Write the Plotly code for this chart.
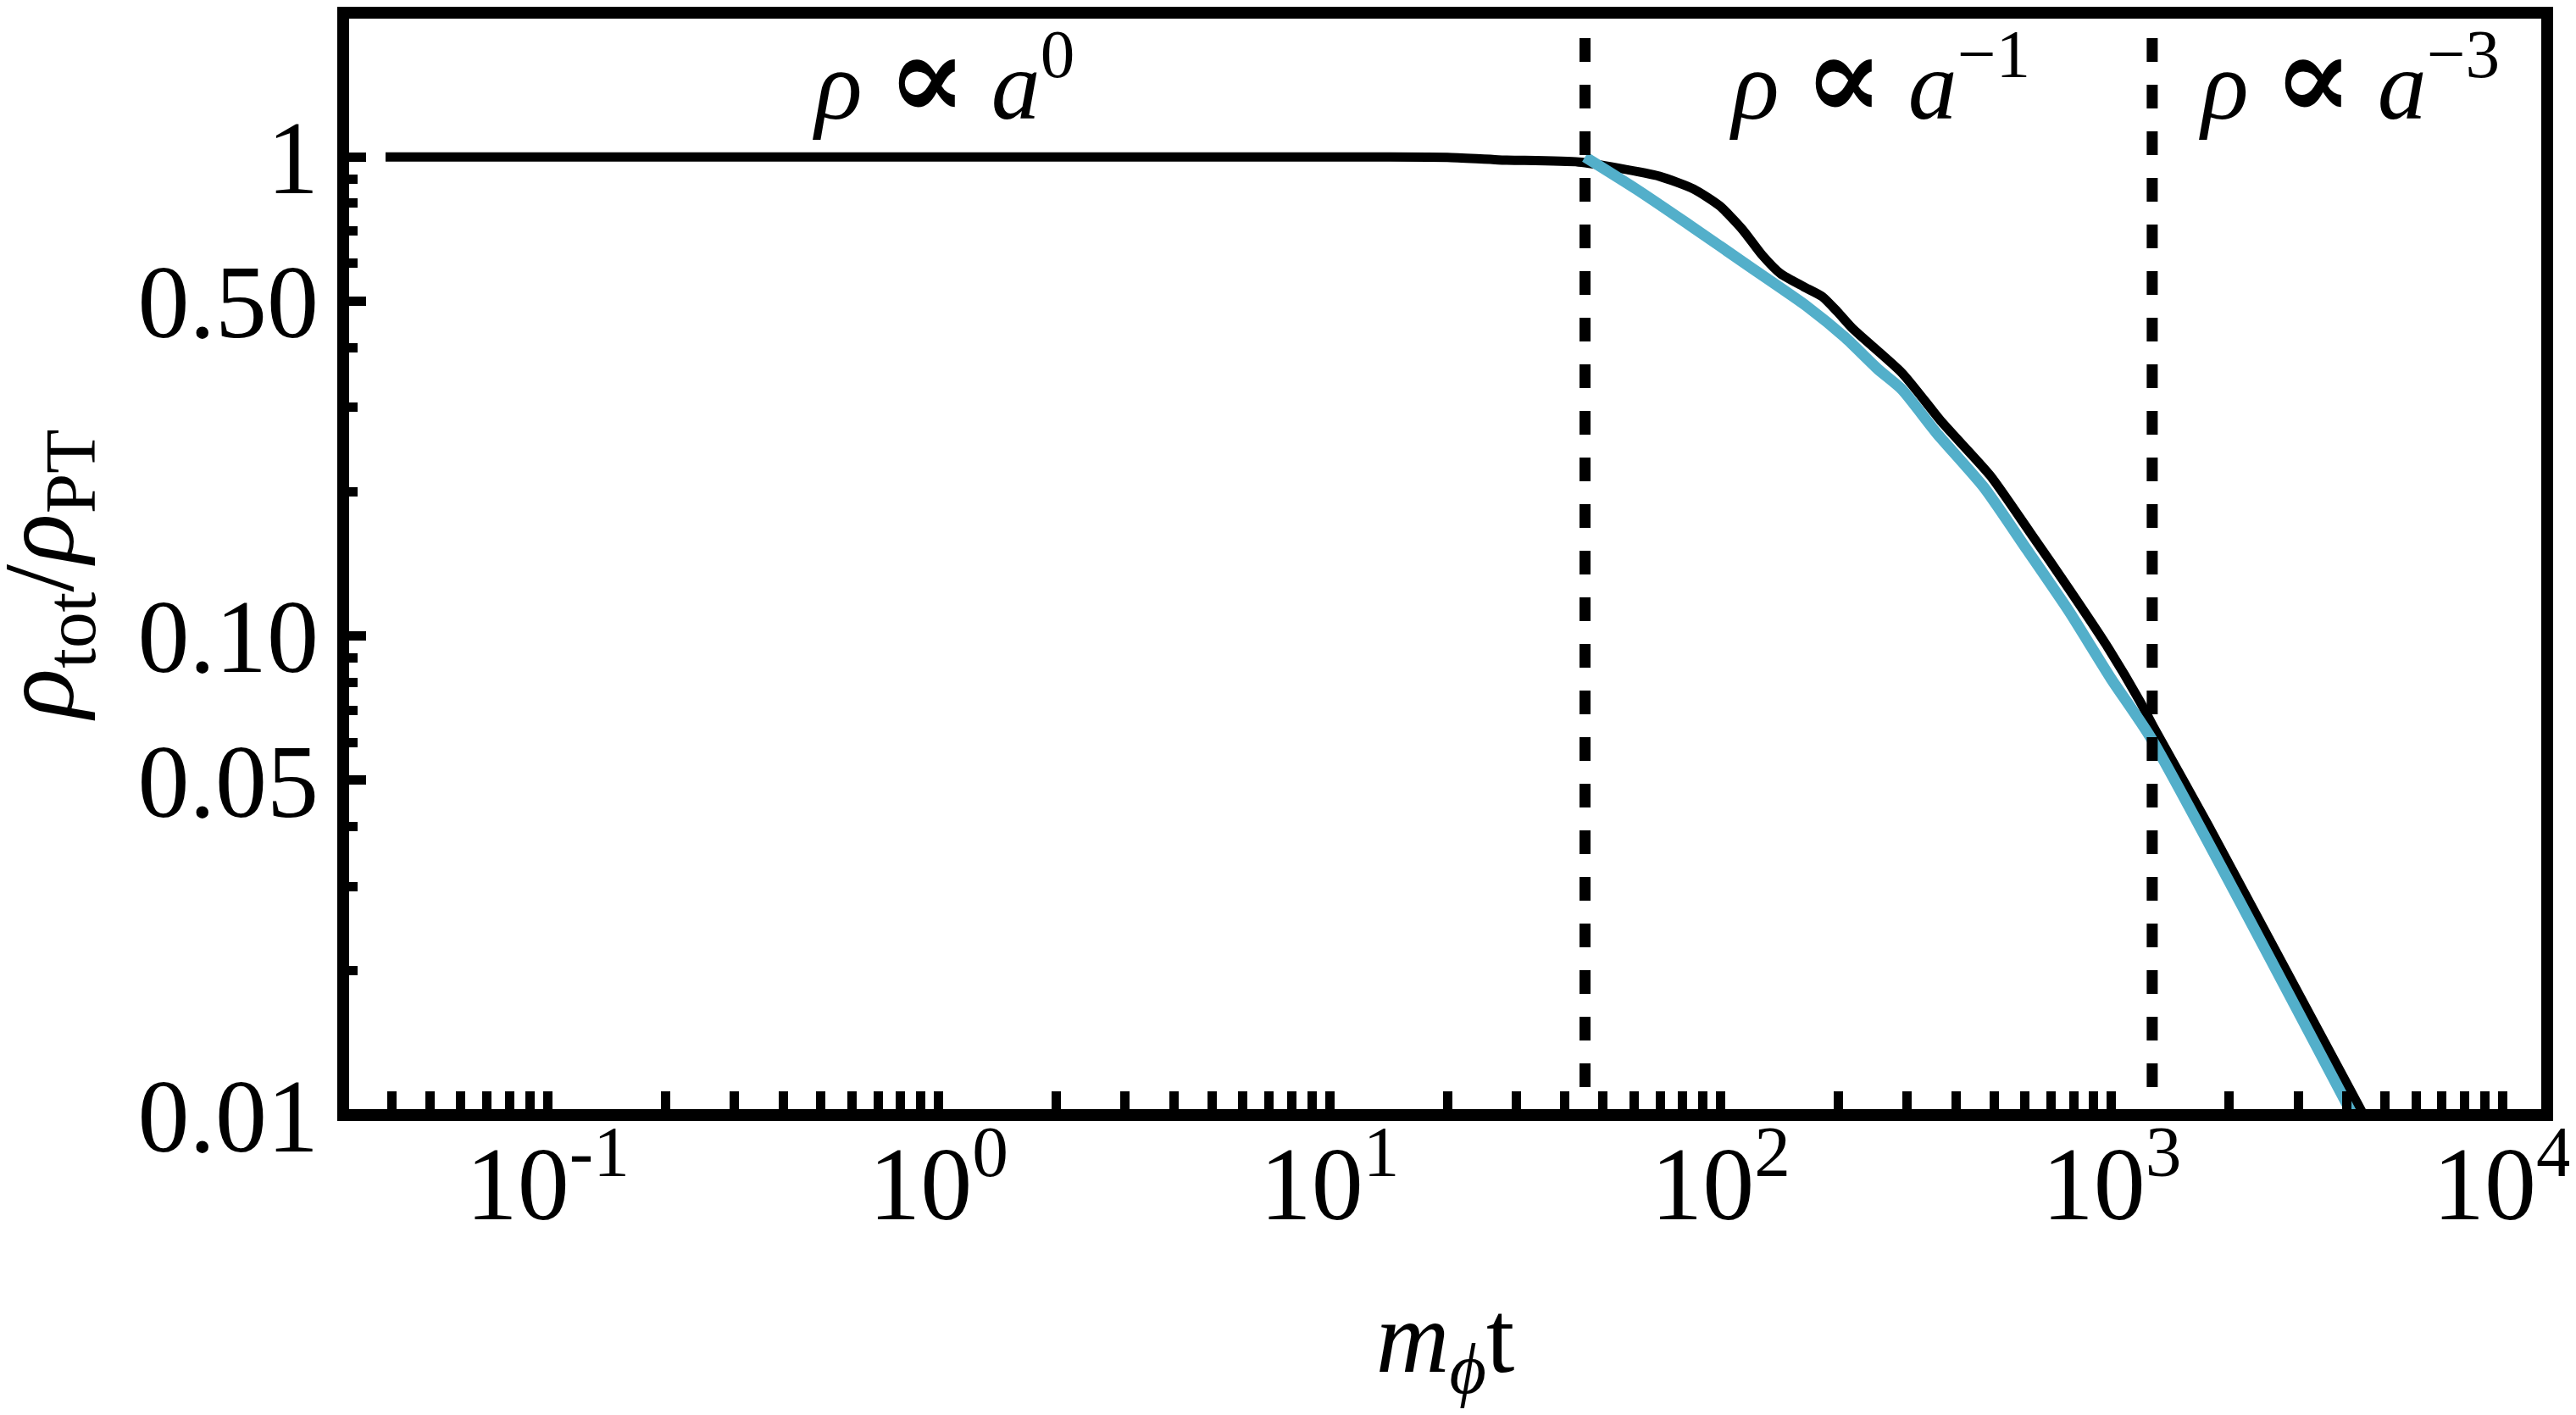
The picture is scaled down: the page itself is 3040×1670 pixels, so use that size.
import numpy as np
import plotly.graph_objects as go

# ---- data ----
total_t = [0.0385, 13.0, 20.0, 27.0, 43.3, 54.7, 69.8, 85.3, 99.5, 113.8, 127.7, 142.5,
           163.0, 182.0, 199.0, 218.0, 291.0, 368.0, 489.0, 618.0, 778.0, 969.0,
           1183.0, 1281.0, 1762.0, 4413.0]
total_rho = [1.0, 1.0, 0.998, 0.986, 0.976, 0.948, 0.911, 0.857, 0.790, 0.705, 0.624, 0.570,
             0.536, 0.511, 0.475, 0.4375, 0.354, 0.2796, 0.2163, 0.1647, 0.1254, 0.0958,
             0.0729, 0.0645, 0.0404, 0.01]

approx_t = [45.0, 60.8, 84.9, 119.0, 166.0, 208.0, 252.0, 291.0, 357.0, 472.0, 606.0,
            777.0, 997.0, 1261.0, 4135.0]
approx_rho = [1.0, 0.857, 0.713, 0.589, 0.488, 0.420, 0.361, 0.327, 0.265, 0.204, 0.1518,
              0.1128, 0.0814, 0.0612, 0.01]

transition_t = [45.0, 1270.0]
dash_rho = [1.77, 0.01]

PROP = "<span style='font-size:140px'><b>∝</b></span>"
regime_labels = [f"<i>ρ</i> {PROP} <i>a</i><sup>0</sup>",
                 f"<i>ρ</i> {PROP} <i>a</i><sup>−1</sup>",
                 f"<i>ρ</i> {PROP} <i>a</i><sup>−3</sup>"]
regime_t = [1.03, 255.0, 4055.0]

x_major = [0.1, 1, 10, 100, 1000, 10000]
x_major_text = ["10<sup>-1</sup>", "10<sup>0</sup>", "10<sup>1</sup>",
                "10<sup>2</sup>", "10<sup>3</sup>", "10<sup>4</sup>"]
y_major = [1, 0.5, 0.1, 0.05, 0.01]
y_major_text = ["1", "0.50", "0.10", "0.05", "0.01"]

x_title = "<i>m</i><sub><i>ϕ</i></sub>t"
y_title = "<i>ρ</i><sub>tot</sub>/<i>ρ</i><sub>PT</sub>"

x_range = [0.03, 13000]
y_range = [0.01, 2.0]

# minor ticks
x_minor = [m * 10.0**k for k in range(-2, 5) for m in range(2, 10)]
x_minor = [v for v in x_minor if x_range[0] < v < x_range[1]]
y_minor = [m * 10.0**k for k in range(-2, 1) for m in range(2, 10)]
y_minor = [v for v in y_minor if y_range[0] < v < y_range[1] and v not in (0.5, 0.05)]

FONT = "Liberation Serif, Times New Roman, DejaVu Serif, serif"
BLUE = "#53AFCA"
TICKSIZE = 122

fig = go.Figure()
fig.add_trace(go.Scatter(x=total_t, y=total_rho, mode="lines",
                         line=dict(color="black", width=11, shape="spline", smoothing=0.6),
                         showlegend=False))
fig.add_trace(go.Scatter(x=approx_t, y=approx_rho, mode="lines",
                         line=dict(color=BLUE, width=13, shape="spline", smoothing=0.6),
                         showlegend=False))
for t in transition_t:
    fig.add_trace(go.Scatter(x=[t, t], y=dash_rho, mode="lines",
                             line=dict(color="black", width=13, dash="28px,27px"),
                             showlegend=False))

# frame
fig.add_shape(type="rect", xref="paper", yref="paper", x0=0, x1=1, y0=0, y1=1,
              line=dict(color="black", width=14), layer="above")

for txt, t in zip(regime_labels, regime_t):
    fig.add_annotation(x=np.log10(t), xref="x", y=0.879, yref="paper",
                       text=txt, showarrow=False, xanchor="center", yanchor="bottom",
                       font=dict(family=FONT, size=116, color="black"))

# y-axis title
fig.add_annotation(x=-0.135, xref="paper", y=0.49, yref="paper", text=y_title,
                   textangle=-90, showarrow=False, xanchor="center", yanchor="middle",
                   font=dict(family=FONT, size=122, color="black"))

fig.update_layout(
    width=3040, height=1670,
    margin=dict(l=397, r=42, t=7, b=362),
    paper_bgcolor="white", plot_bgcolor="white",
    font=dict(family=FONT, color="black"),
    xaxis=dict(type="log", range=[np.log10(x_range[0]), np.log10(x_range[1])],
               showgrid=False, zeroline=False, showline=False,
               tickmode="array", tickvals=x_major, ticktext=x_major_text,
               ticks="inside", ticklen=28, tickwidth=11, tickcolor="black",
               tickfont=dict(family=FONT, size=TICKSIZE),
               minor=dict(tickmode="array", tickvals=x_minor, ticks="inside",
                          ticklen=28, tickwidth=11, tickcolor="black", showgrid=False),
               title=dict(text=x_title, font=dict(family=FONT, size=120), standoff=70)),
    yaxis=dict(type="log", range=[np.log10(y_range[0]), np.log10(y_range[1])],
               showgrid=False, zeroline=False, showline=False,
               tickmode="array", tickvals=y_major, ticktext=y_major_text,
               ticks="inside", ticklen=27, tickwidth=11, tickcolor="black",
               ticklabelstandoff=28,
               tickfont=dict(family=FONT, size=TICKSIZE),
               minor=dict(tickmode="array", tickvals=y_minor, ticks="inside",
                          ticklen=17, tickwidth=11, tickcolor="black", showgrid=False)),
)

fig.write_html("out.html")
